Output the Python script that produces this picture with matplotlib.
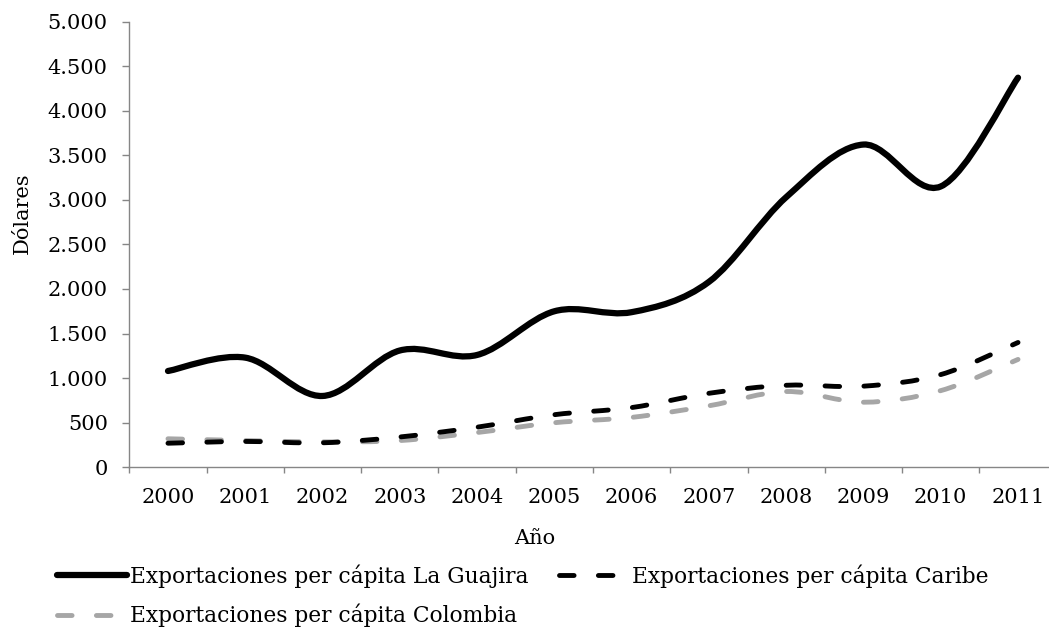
import numpy as np
import matplotlib
matplotlib.use("Agg")
import matplotlib.pyplot as plt
from matplotlib.path import Path
from matplotlib.patches import PathPatch
from matplotlib.lines import Line2D
from matplotlib.ticker import FuncFormatter, FixedLocator

# data (dollars per capita)
years = ['2000', '2001', '2002', '2003', '2004', '2005',
         '2006', '2007', '2008', '2009', '2010', '2011']
guajira = [1080, 1230, 800, 1310, 1260, 1750, 1740, 2080, 3030, 3620, 3150, 4370]
caribe = [270, 290, 275, 340, 450, 590, 670, 830, 920, 910, 1040, 1400]
colombia = [320, 300, 285, 300, 390, 500, 560, 690, 850, 730, 860, 1210]

labels = ['Exportaciones per cápita La Guajira',
          'Exportaciones per cápita Caribe',
          'Exportaciones per cápita Colombia']

plt.rcParams['font.family'] = ['DejaVu Serif']
FS = 15
LEG_FS = 15.7
GREY = '#868686'


def smooth_path(y):
    # Excel-like smoothed line: cubic Bezier through each data point
    x = np.arange(len(y), dtype=float)
    pts = np.column_stack([x, np.asarray(y, dtype=float)])
    ext = np.vstack([pts[0], pts, pts[-1]])
    verts = [pts[0]]
    codes = [Path.MOVETO]
    for i in range(len(pts) - 1):
        p0, p1, p2, p3 = ext[i], ext[i + 1], ext[i + 2], ext[i + 3]
        verts += [p1 + (p2 - p0) / 6, p2 - (p3 - p1) / 6, p2]
        codes += [Path.CURVE4] * 3
    return Path(verts, codes)


fig = plt.figure(figsize=(10.49, 6.27), dpi=100)
ax = fig.add_axes([0.1233, 0.2547, 0.884, 0.711])

styles = [
    dict(color='black', lw=4.5, ls='-'),
    dict(color='black', lw=3.5, ls=(0, (3, 5))),
    dict(color='#a6a6a6', lw=3.5, ls=(0, (3, 5))),
]
series = [guajira, caribe, colombia]
handles = []
# draw grey first so black dashes sit on top
for idx in [2, 1, 0]:
    st = styles[idx]
    patch = PathPatch(smooth_path(series[idx]), fill=False, edgecolor=st['color'],
                      lw=st['lw'], linestyle=st['ls'], capstyle='round',
                      joinstyle='round')
    ax.add_patch(patch)
for idx in range(3):
    st = styles[idx]
    handles.append(Line2D([], [], color=st['color'], lw=st['lw'], ls=st['ls'],
                          dash_capstyle='round', solid_capstyle='round'))

ax.set_xlim(-0.5, 11.5)
ax.set_ylim(0, 5000)

ax.set_yticks(np.arange(0, 5001, 500))
ax.yaxis.set_major_formatter(FuncFormatter(lambda v, p: f"{int(v):,}".replace(",", ".")))
ax.tick_params(axis='y', direction='out', length=5, width=1, color=GREY,
               labelsize=FS, pad=10.5)

# category ticks on boundaries, labels in the middle
ax.xaxis.set_major_locator(FixedLocator(np.arange(-0.5, 12, 1)))
ax.xaxis.set_minor_locator(FixedLocator(np.arange(0, 12)))
ax.set_xticklabels([], minor=False)
ax.set_xticklabels(years, minor=True)
ax.tick_params(axis='x', which='major', direction='out', length=4, width=1, color=GREY)
ax.tick_params(axis='x', which='minor', length=0, labelsize=FS, pad=15)

for s in ['top', 'right']:
    ax.spines[s].set_visible(False)
for s in ['left', 'bottom']:
    ax.spines[s].set_color(GREY)
    ax.spines[s].set_linewidth(1.0)

fig.text(22 / 1049, 1 - 213 / 627, 'Dólares', rotation=90, fontsize=FS,
         ha='center', va='center')
fig.text(535 / 1049, 1 - 539 / 627, 'Año', fontsize=FS, ha='center', va='center')

order = [0, 2, 1]
fig.legend([handles[i] for i in order], [labels[i] for i in order],
           loc='upper left', bbox_to_anchor=(57 / 1049, 1 - 564 / 627),
           ncol=2, frameon=False, fontsize=LEG_FS, handlelength=3.2,
           handletextpad=0.15, columnspacing=1.4, labelspacing=0.75,
           borderpad=0, borderaxespad=0)

fig.savefig('out.png', dpi=100)
